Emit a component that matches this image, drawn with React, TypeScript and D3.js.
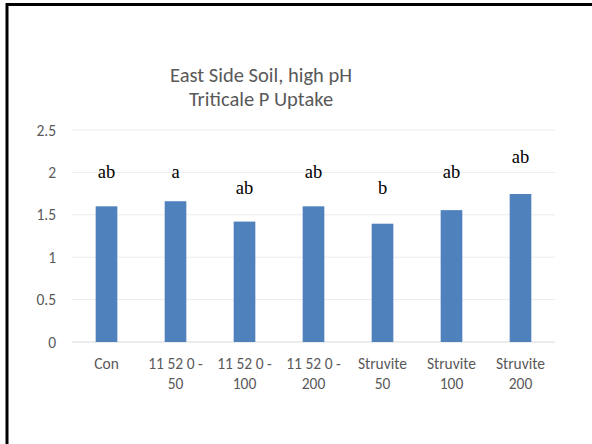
import React from "react";
import * as d3 from "d3";

const categories: string[][] = [
  ["Con"],
  ["11 52 0 -", "50"],
  ["11 52 0 -", "100"],
  ["11 52 0 -", "200"],
  ["Struvite", "50"],
  ["Struvite", "100"],
  ["Struvite", "200"],
];
const uptake = [1.6, 1.66, 1.42, 1.6, 1.395, 1.555, 1.745];
const letters = ["ab", "a", "ab", "ab", "b", "ab", "ab"];
const letterY = [1.93, 1.93, 1.75, 1.93, 1.75, 1.93, 2.11];
const yTicks = [0, 0.5, 1, 1.5, 2, 2.5];
const titleLines = ["East Side Soil, high pH", "Triticale P Uptake"];

const W = 592;
const H = 444;
const plot = { left: 72, right: 555, top: 130, bottom: 342 };
const textGray = "#595959";
const sans = "Carlito, Calibri, Lato, 'Open Sans', sans-serif";
const serif = "Tinos, 'Liberation Serif', 'Times New Roman', 'DejaVu Serif', serif";

export default function App() {
  const x = d3
    .scaleBand<number>()
    .domain(d3.range(categories.length))
    .range([plot.left, plot.right])
    .paddingInner(0.686)
    .paddingOuter(0.343);
  const y = d3.scaleLinear().domain([0, 2.5]).range([plot.bottom, plot.top]);
  const cx = (i: number) => (x(i) ?? 0) + x.bandwidth() / 2;

  return (
    <svg
      width={W}
      height={H}
      style={{ position: "absolute", left: 0, top: 0, background: "#fff" }}
    >
      <rect x={0} y={0} width={W} height={H} fill="#fff" />
      {/* frame, cut off at the right and bottom */}
      <rect x={7} y={4.5} width={W + 20} height={H + 20} fill="none" stroke="#000" strokeWidth={3} />

      {/* title */}
      {titleLines.map((t, i) => (
        <text
          key={t}
          x={261}
          y={82 + i * 24}
          textAnchor="middle"
          fill={textGray}
          fontFamily={sans}
          fontSize={20.5}
        >
          {t}
        </text>
      ))}

      {/* gridlines and y ticks */}
      {yTicks.map((t) => (
        <g key={t}>
          <line
            x1={plot.left}
            x2={plot.right}
            y1={y(t)}
            y2={y(t)}
            stroke={t === 0 ? "#d9d9d9" : "#ececec"}
            strokeWidth={1}
          />
          <text
            x={56}
            y={y(t)}
            dy="0.36em"
            textAnchor="end"
            fill={textGray}
            fontFamily={sans}
            fontSize={15.5}
          >
            {t}
          </text>
        </g>
      ))}

      {/* bars */}
      {uptake.map((v, i) => (
        <rect
          key={i}
          x={x(i)}
          y={y(v)}
          width={x.bandwidth()}
          height={y(0) - y(v)}
          fill="#4f81bd"
        />
      ))}

      {/* significance letters */}
      {letters.map((l, i) => (
        <text
          key={i}
          x={cx(i)}
          y={y(letterY[i])}
          textAnchor="middle"
          fill="#000"
          fontFamily={serif}
          fontSize={18.5}
        >
          {l}
        </text>
      ))}

      {/* category labels */}
      {categories.map((lines, i) => (
        <text
          key={i}
          x={cx(i)}
          y={369}
          textAnchor="middle"
          fill={textGray}
          fontFamily={sans}
          fontSize={15.5}
        >
          {lines.map((s, j) => (
            <tspan key={j} x={cx(i)} dy={j === 0 ? 0 : 20}>
              {s}
            </tspan>
          ))}
        </text>
      ))}
    </svg>
  );
}
